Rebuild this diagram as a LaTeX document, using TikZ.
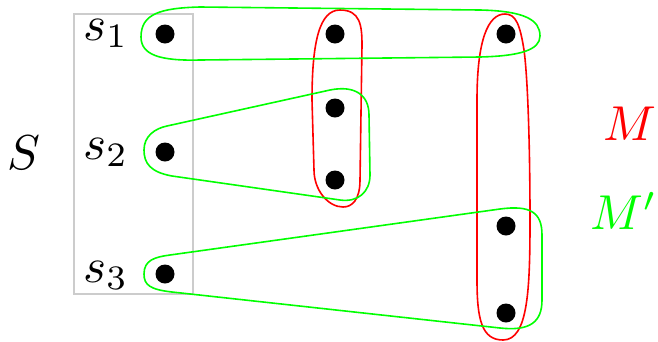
\documentclass[tikz,border=0pt]{standalone}
\begin{document}
\begin{tikzpicture}[x=1pt,y=-1pt,
  dot/.style={circle,fill=black,inner sep=0pt,minimum size=19pt},
  lbl/.style={anchor=base,inner sep=0pt,scale=4.9},
  redloop/.style={draw=red,line width=1.6pt},
  greenloop/.style={draw=green,line width=1.6pt}]
\useasboundingbox (0,0) rectangle (658,341);
% gray set box
\draw[gray!40,line width=1.6pt] (74,14) rectangle (193,294);
% labels
\node[lbl] (S) at (24,169) {$S$};
\node[lbl] (l1) at (106,40) {$s_1$};
\node[lbl] (l2) at (106,159) {$s_2$};
\node[lbl] (l3) at (106,282) {$s_3$};
\node[lbl,text=red] (M) at (630,140) {$M$};
\node[lbl,text=green] (Mp) at (624,229) {$M'$};
% dots
\node[dot] (a1) at (165,34) {};
\node[dot] (a2) at (165,152) {};
\node[dot] (a3) at (165,274) {};
\node[dot] (b1) at (335,34) {};
\node[dot] (b2) at (335,108) {};
\node[dot] (b3) at (335,180) {};
\node[dot] (c1) at (506,34) {};
\node[dot] (c2) at (506,226) {};
\node[dot] (c3) at (506,313) {};
% red loops (M)
\draw[redloop] (312,100) .. controls (312,40) and (320,10) .. (340,10)
  .. controls (360,10) and (362,25) .. (362,45) -- (360,180)
  .. controls (360,200) and (352,207) .. (343,207)
  .. controls (328,207) and (314,190) .. (314,170) -- cycle;
\draw[redloop] (477,100) .. controls (477,40) and (488,14) .. (505,14)
  .. controls (516,14) and (520,25) .. (524,50)
  .. controls (528,80) and (530,150) .. (530,220)
  .. controls (530,290) and (528,340) .. (503,340)
  .. controls (482,340) and (477,320) .. (477,280) -- cycle;
% green loops (M')
\draw[greenloop] (141,37) .. controls (141,14) and (160,8) .. (200,7) -- (480,10)
  .. controls (525,11) and (540,20) .. (540,36)
  .. controls (540,50) and (520,56) .. (480,57) -- (200,60)
  .. controls (160,61) and (141,55) .. (141,37) -- cycle;
\draw[greenloop] (144,150) .. controls (144,136) and (155,128.5) .. (167,126) -- (330,90)
  .. controls (355,85) and (369,95) .. (369,115) -- (370,175)
  .. controls (370,192) and (358,202.5) .. (340,200) -- (172,176)
  .. controls (150,172) and (144,163) .. (144,150) -- cycle;
\draw[greenloop] (144,274) .. controls (144,260) and (155,257) .. (170,255) -- (500,209)
  .. controls (530,205) and (542,212) .. (542,235) -- (542,300)
  .. controls (542,322) and (530,331.3) .. (500,328) -- (172,292)
  .. controls (150,289.5) and (144,285) .. (144,274) -- cycle;
\end{tikzpicture}
\end{document}
